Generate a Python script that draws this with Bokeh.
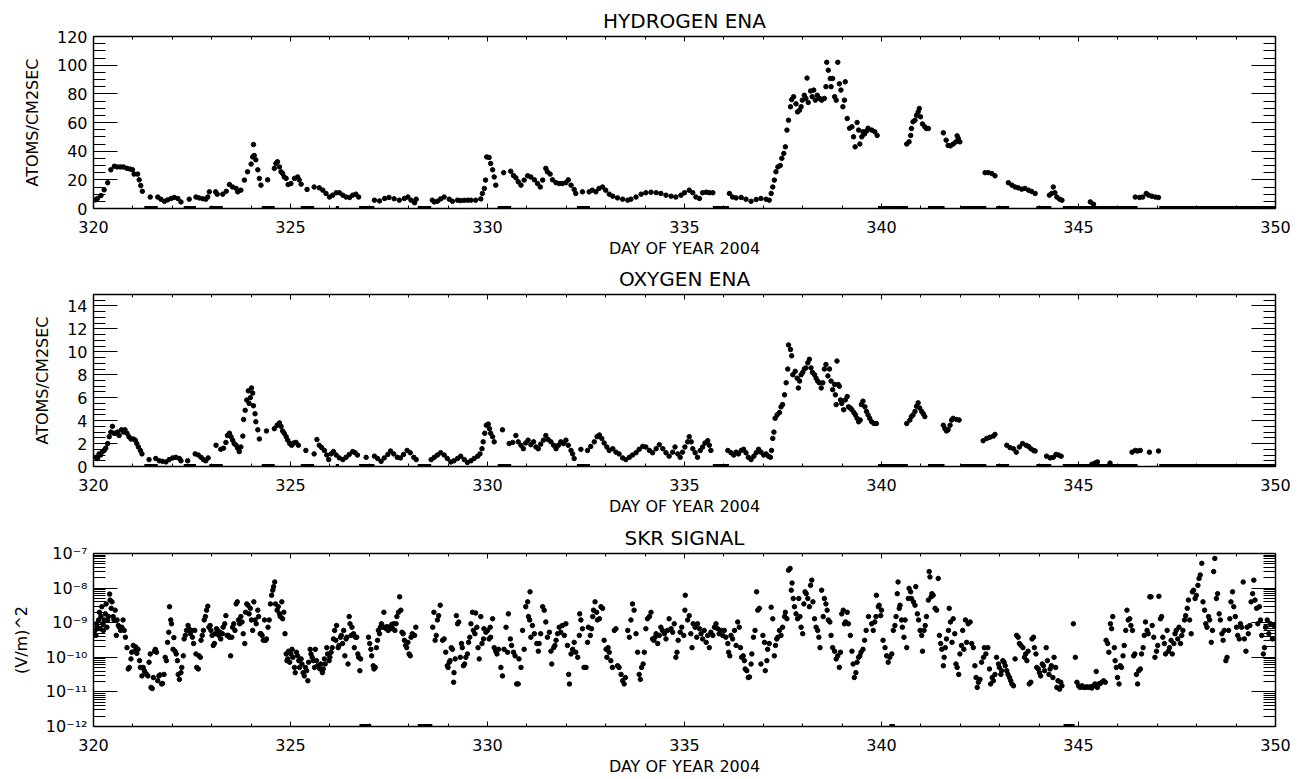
from bokeh.plotting import figure
from bokeh.models import (Range1d, LinearAxis, LogAxis, SingleIntervalTicker, LogTicker,
                          CustomJSTickFormatter)
from bokeh.layouts import column
from bokeh.embed import file_html
from bokeh.resources import INLINE

FONT = "DejaVu Sans"

# ---------------- data ----------------
x_ticks = [320, 325, 330, 335, 340, 345, 350]

h_day = [320.05, 320.10, 320.19, 320.27, 320.36, 320.44, 320.53, 320.60, 320.68, 320.76, 320.85, 320.93, 320.99,
         321.03, 321.12, 321.16, 321.20, 321.24, 321.44,
         321.63, 321.71, 321.80, 321.88, 321.97, 322.05, 322.14, 322.22, 322.43,
         322.60, 322.68, 322.77, 322.85, 322.90, 322.94, 323.10, 323.14,
         323.28, 323.37, 323.45, 323.53, 323.62, 323.66, 323.74, 323.83, 323.91, 324.00, 324.04, 324.06, 324.08,
         324.12, 324.17, 324.21, 324.25, 324.42,
         324.59, 324.63, 324.67, 324.72, 324.76, 324.80, 324.84, 324.89, 324.94, 325.01, 325.10, 325.18, 325.22,
         325.27, 325.42,
         325.60, 325.73, 325.82, 325.90, 325.99, 326.07, 326.16, 326.24, 326.33, 326.41, 326.50, 326.58, 326.66,
         326.73,
         327.13, 327.26, 327.39, 327.50, 327.63, 327.76, 327.89, 327.98, 328.06, 328.15, 328.19,
         328.60, 328.65, 328.73, 328.81, 328.90, 329.03, 329.11, 329.24, 329.32, 329.41, 329.50, 329.58, 329.70,
         329.83, 329.87, 329.92, 329.95, 329.98, 330.04, 330.08, 330.13, 330.17, 330.21, 330.41,
         330.59, 330.66, 330.72, 330.78, 330.85, 330.93, 331.02, 331.10, 331.19, 331.27, 331.34, 331.40, 331.48,
         331.52, 331.59, 331.65, 331.74, 331.82, 331.90, 331.99, 332.05, 332.12, 332.20, 332.24, 332.41,
         332.58, 332.66, 332.75, 332.83, 332.92, 333.00, 333.09, 333.18, 333.30, 333.43, 333.56, 333.64, 333.77,
         333.90, 334.02, 334.15, 334.28, 334.40, 334.53, 334.66, 334.78, 334.91, 335.00, 335.12, 335.21, 335.29,
         335.38, 335.46, 335.55, 335.63, 335.72,
         336.14, 336.22, 336.31, 336.44, 336.56, 336.69, 336.82, 336.94, 337.07, 337.15, 337.20, 337.24, 337.28,
         337.32, 337.37, 337.43, 337.47, 337.52, 337.56, 337.60, 337.64, 337.69, 337.72, 337.77, 337.83, 337.87,
         337.92, 337.96, 337.99, 338.04, 338.08, 338.11, 338.14, 338.20, 338.24, 338.28, 338.32, 338.37, 338.43,
         338.48, 338.55, 338.59, 338.61, 338.65, 338.70, 338.72, 338.76, 338.81, 338.85, 338.89, 338.93, 338.97,
         339.02, 339.06, 339.08, 339.13, 339.19, 339.25, 339.29, 339.33, 339.38, 339.42, 339.45, 339.50, 339.53,
         339.57, 339.62, 339.66, 339.75, 339.83, 339.89,
         340.64, 340.70, 340.74, 340.76, 340.80, 340.85, 340.89, 340.93, 340.96, 340.99, 341.04, 341.10, 341.14,
         341.19,
         341.57, 341.64, 341.69, 341.75, 341.82, 341.89, 341.92, 341.95, 341.99,
         342.63, 342.71, 342.80, 342.88,
         343.22, 343.31, 343.39, 343.47, 343.56, 343.64, 343.73, 343.81, 343.90,
         344.26, 344.32, 344.36, 344.40, 344.45, 344.52, 344.58,
         345.30, 345.38,
         346.44, 346.55, 346.63, 346.72, 346.78, 346.86, 346.95, 347.03]
h_val = [6, 7, 9, 13, 18, 27, 29.5, 29, 29, 29, 28, 27.5, 27,
         24, 24, 20, 16, 12, 8,
         8, 6.5, 5, 6, 7, 7.7, 7, 4.6, 6.5,
         8, 7.4, 6.8, 6.5, 8, 11.6, 11.6, 10,
         10, 12, 16.7, 15, 14, 11.6, 12.8, 19.8, 25.6, 31, 36, 44.6, 37,
         34, 27, 21, 16.3, 20,
         28, 31.4, 32.6, 29, 25.6, 24.4, 22, 21, 16.7, 17.4, 21, 22, 20,
         17, 13.3,
         15, 14.4, 12.8, 10.5, 8, 9.3, 11, 11, 9.3, 8, 7.7, 9.3, 10,
         8,
         5.8, 5.3, 7, 7.7, 6.8, 5.8, 7, 8, 5.8, 4, 6.5,
         5.8, 4.6, 5.1, 6.7, 8, 6.5, 5, 5.8, 5.5, 5.7, 5.8, 5.8, 5.8,
         6.7, 10.5, 14, 19.8, 36, 35.6, 31.4, 27, 22, 16.3, 25,
         26, 23, 21.4, 18.6, 16.3, 19.8, 22.8, 22, 20, 17.4, 15, 19.8, 28,
         25.6, 24, 20, 18, 17.4, 17.4, 18, 20, 16.3, 13.3, 10.5, 11.6,
         11.6, 12.8, 11.6, 14, 15, 12.8, 10, 8.6, 7.4, 6.5, 5.8, 6.5, 8,
         10, 11, 11.4, 11, 10.5, 9.3, 8.6, 8, 9.3, 11, 12.8, 11, 8,
         7, 11, 11.4, 11, 11,
         10.5, 8, 7.4, 7.7, 6.5, 5, 6.3, 7, 6.5, 5.8, 10.5, 15, 19.8,
         25.6, 29, 30, 35, 38.4, 43, 54.7, 61.6, 71, 76, 78, 73, 67.4,
         68.6, 71, 75.6, 79, 76.8, 91, 74, 82, 78, 82.6, 75.6, 79, 76.8,
         75.6, 76.8, 85, 102, 96.5, 90.7, 85, 90.7, 78, 75.6, 102, 87, 82.6,
         71, 75.6, 88.4, 62.8, 56, 57, 50, 43, 60, 54.7, 45, 50, 53.5,
         52, 54, 56, 54.7, 53.5, 51,
         45, 46.5, 51, 55.8, 60.5, 61.6, 65, 67.4, 69.8, 64, 59, 57, 55.8,
         55.8,
         52.8, 47.7, 44, 43.7, 45, 46.5, 50.7, 48.8, 46.5,
         25, 25, 24.4, 22.8,
         18, 16.3, 15, 14.4, 13.5, 14, 12.8, 11.9, 10.5,
         9.3, 10.5, 15, 11, 8, 6.5, 5.8,
         4.6, 3,
         8, 7.7, 8, 10.5, 9.3, 8.6, 8, 7.7]

o_day = [320.06, 320.10, 320.14, 320.18, 320.23, 320.27, 320.31, 320.36, 320.40, 320.44, 320.48, 320.52, 320.57,
         320.61, 320.65, 320.71, 320.76, 320.80, 320.85, 320.90, 320.95, 321.01, 321.06, 321.10, 321.14, 321.19,
         321.23, 321.41,
         321.58, 321.67, 321.75, 321.84, 321.92, 322.01, 322.09, 322.18, 322.22, 322.39,
         322.58, 322.66, 322.73, 322.79, 322.85, 322.91, 323.11,
         323.23, 323.30, 323.36, 323.40, 323.45, 323.49, 323.53, 323.57, 323.62, 323.66, 323.70, 323.74, 323.79,
         323.81, 323.85, 323.89, 323.93, 323.95, 323.98, 324.01, 324.04, 324.06, 324.10, 324.12, 324.17, 324.21,
         324.39,
         324.59, 324.66, 324.72, 324.76, 324.80, 324.84, 324.89, 324.93, 324.98, 325.03, 325.08, 325.14, 325.20,
         325.39,
         325.60, 325.67, 325.73, 325.79, 325.86, 325.92, 325.97, 326.03, 326.09, 326.16, 326.24, 326.33, 326.41,
         326.49, 326.58, 326.64, 326.70, 326.92,
         327.13, 327.21, 327.30, 327.38, 327.47, 327.54, 327.62, 327.71, 327.79, 327.87, 327.96, 328.04, 328.13,
         328.19,
         328.57, 328.65, 328.73, 328.81, 328.90, 328.98, 329.07, 329.15, 329.24, 329.32, 329.41, 329.49, 329.58,
         329.66, 329.75, 329.81, 329.86, 329.89, 329.93, 329.97, 330.02, 330.05, 330.08, 330.13, 330.17, 330.38,
         330.55, 330.64, 330.72, 330.78, 330.85, 330.91, 330.97, 331.03, 331.10, 331.17, 331.23, 331.29, 331.35,
         331.42, 331.48, 331.54, 331.61, 331.68, 331.74, 331.80, 331.86, 331.93, 331.99, 332.05, 332.12, 332.16,
         332.20, 332.37,
         332.54, 332.62, 332.71, 332.78, 332.84, 332.90, 332.96, 333.03, 333.09, 333.18, 333.26, 333.34, 333.43,
         333.51, 333.60, 333.68, 333.77, 333.85, 333.94, 334.02, 334.11, 334.19, 334.28, 334.36, 334.45, 334.53,
         334.61, 334.70, 334.76, 334.83, 334.89, 334.95, 335.01, 335.08, 335.12, 335.17, 335.21, 335.27, 335.33,
         335.40, 335.46, 335.52, 335.59, 335.63, 335.67,
         336.10, 336.18, 336.25, 336.31, 336.37, 336.44, 336.50, 336.56, 336.62, 336.69, 336.76, 336.82, 336.88,
         336.94, 337.01, 337.07, 337.13, 337.18, 337.21, 337.24, 337.27, 337.30, 337.35, 337.41, 337.45, 337.49,
         337.54, 337.58, 337.62, 337.64, 337.69, 337.72, 337.75, 337.81, 337.86, 337.89, 337.92, 337.96, 338.00,
         338.04, 338.08, 338.13, 338.17, 338.21, 338.25, 338.30, 338.34, 338.38, 338.42, 338.47, 338.51, 338.55,
         338.59, 338.64, 338.68, 338.72, 338.76, 338.81, 338.83, 338.85, 338.87, 338.90, 338.93, 338.96, 338.99,
         339.04, 339.08, 339.13, 339.16, 339.21, 339.25, 339.30, 339.34, 339.38, 339.42, 339.46, 339.49, 339.53,
         339.58, 339.62, 339.66, 339.70, 339.75, 339.81, 339.87,
         340.64, 340.72, 340.76, 340.80, 340.85, 340.89, 340.93, 340.97, 341.02, 341.06, 341.10,
         341.57, 341.61, 341.65, 341.69, 341.74, 341.78, 341.82, 341.91, 341.97,
         342.58, 342.67, 342.75, 342.84, 342.88,
         343.18, 343.26, 343.35, 343.42, 343.50, 343.58, 343.67, 343.73, 343.79, 343.86, 343.90,
         344.19, 344.28, 344.36, 344.43, 344.49, 344.56,
         345.34, 345.42, 345.48, 345.80,
         346.36, 346.44, 346.50, 346.57, 346.80, 347.03]
o_val = [0.8, 0.7, 1.1, 1.0, 1.3, 1.4, 1.6, 2.0, 2.6, 3.0, 3.5, 2.9, 2.9,
         3.0, 2.7, 3.2, 3.0, 3.2, 2.9, 2.6, 2.4, 2.4, 2.3, 2.0, 1.7, 1.4,
         1.1, 0.6,
         0.7, 0.5, 0.45, 0.4, 0.6, 0.75, 0.8, 0.7, 0.5, 0.5,
         1.1, 1.0, 0.8, 0.6, 0.5, 0.75, 1.85,
         1.5, 1.6, 2.1, 2.7, 2.9, 2.6, 2.3, 2.0, 1.85, 1.6, 1.3, 1.7, 2.65,
         4.1, 4.9, 5.8, 6.6, 5.5, 6.0, 6.85, 6.4, 5.3, 4.6, 3.9, 3.2, 2.4,
         3.1,
         3.3, 3.6, 3.8, 3.5, 3.1, 2.9, 2.6, 2.3, 2.0, 1.85, 2.05, 2.1, 1.85,
         1.4,
         1.1, 2.35, 1.85, 1.65, 1.4, 1.0, 0.6, 1.1, 1.3, 1.0, 0.75, 0.6, 0.8,
         1.05, 1.3, 1.2, 1.0, 0.8,
         0.9, 0.7, 0.45, 0.75, 1.05, 1.35, 1.1, 0.8, 0.75, 1.05, 1.4, 1.2, 0.8,
         0.6,
         0.6, 0.8, 1.0, 1.2, 1.0, 0.7, 0.4, 0.5, 0.7, 0.9, 0.6, 0.35, 0.5,
         0.7, 0.9, 1.1, 1.55, 2.15, 2.9, 3.6, 3.7, 3.3, 2.9, 2.6, 2.15, 3.2,
         2.0, 2.1, 2.7, 2.15, 1.85, 1.55, 2.05, 2.3, 1.9, 2.15, 1.7, 1.55, 1.95,
         2.3, 2.7, 2.35, 2.15, 1.85, 1.55, 1.85, 2.15, 2.0, 2.3, 1.85, 1.4, 1.1,
         0.7, 1.5,
         1.4, 1.75, 2.15, 2.6, 2.75, 2.45, 2.05, 1.7, 1.4, 1.55, 1.25, 1.1, 0.75,
         0.6, 0.8, 1.0, 1.2, 1.5, 1.75, 1.7, 1.4, 1.2, 1.55, 1.9, 1.55, 1.2,
         0.9, 1.25, 1.7, 1.1, 0.8, 1.25, 1.7, 2.15, 2.6, 2.15, 1.55, 1.2, 0.8,
         1.4, 1.7, 2.05, 2.25, 1.85, 1.4,
         1.4, 1.2, 1.0, 1.25, 1.1, 1.4, 1.5, 1.2, 0.8, 0.6, 0.9, 1.2, 1.5,
         1.25, 1.0, 1.1, 0.9, 0.8, 1.4, 2.45, 3.0, 4.2, 4.5, 4.7, 5.2, 5.4,
         6.25, 7.3, 8.5, 10.6, 10.2, 9.65, 8.0, 8.3, 7.7, 6.85, 7.45, 8.0, 8.2,
         8.5, 8.6, 9.05, 9.35, 8.6, 8.2, 8.0, 7.7, 7.45, 7.3, 6.85, 7.3, 8.5,
         8.9, 7.9, 8.5, 7.45, 6.7, 7.15, 6.25, 5.4, 9.2, 7.15, 7.0, 5.8, 5.5,
         4.95, 5.8, 6.1, 5.2, 5.1, 4.95, 4.7, 4.5, 4.2, 3.9, 4.05, 5.4, 5.7,
         5.2, 4.8, 4.5, 4.2, 3.9, 3.75, 3.75,
         3.75, 4.05, 4.35, 4.5, 4.8, 5.25, 5.55, 5.1, 4.8, 4.6, 4.35,
         3.6, 3.3, 3.1, 3.2, 3.6, 4.05, 4.2, 4.1, 4.05,
         2.25, 2.45, 2.55, 2.65, 2.8,
         1.85, 1.65, 1.55, 1.25, 1.7, 2.0, 1.85, 1.75, 1.55, 1.4, 1.35,
         0.9, 0.75, 0.8, 1.05, 1.0, 0.9,
         0.2, 0.3, 0.4, 0.3,
         1.25, 1.4, 1.35, 1.4, 1.25, 1.35]

# intervals where the ENA count is zero (drawn on the x axis)
ena_zero_start = [321.29, 322.29, 322.94, 324.27, 325.26, 326.15, 326.74, 328.23, 330.26, 332.27, 335.72,
                  339.91, 341.18, 342.02, 342.91, 343.93, 344.60, 347.05]
ena_zero_end = [321.63, 322.60, 323.28, 324.60, 325.60, 326.23, 327.13, 328.57, 330.60, 332.60, 336.13,
                340.67, 341.60, 342.66, 343.24, 344.31, 346.50, 350.00]
skr_zero_start = [326.75, 328.23, 340.20, 344.62]
skr_zero_end = [327.05, 328.60, 340.34, 344.90]

skr_day = [320.04, 320.06, 320.08, 320.10, 320.13, 320.15, 320.17, 320.19, 320.21, 320.24, 320.25, 320.27, 320.30,
           320.32, 320.34, 320.36, 320.38, 320.41, 320.42, 320.45, 320.47, 320.50, 320.52, 320.55, 320.58, 320.60,
           320.63, 320.66, 320.69, 320.72, 320.75, 320.78, 320.81, 320.85, 320.88, 320.91, 320.95, 320.97, 321.01,
           321.04, 321.07, 321.10, 321.13, 321.17, 321.19, 321.23, 321.26, 321.29, 321.31, 321.35, 321.38, 321.41,
           321.44, 321.46, 321.49, 321.52, 321.55, 321.57, 321.60, 321.63, 321.66, 321.69, 321.73, 321.75, 321.79,
           321.82, 321.85, 321.88, 321.91, 321.93, 321.96, 321.98, 322.02, 322.04, 322.07, 322.10, 322.13, 322.15,
           322.18, 322.22, 322.24, 322.28, 322.30, 322.33, 322.36, 322.40, 322.42, 322.46, 322.48, 322.51, 322.54,
           322.57, 322.60, 322.62, 322.66, 322.68, 322.71, 322.73, 322.76, 322.79, 322.81, 322.84, 322.87, 322.90,
           322.93, 322.96, 322.98, 323.01, 323.04, 323.07, 323.09, 323.12, 323.15, 323.18, 323.21, 323.23, 323.27,
           323.29, 323.33, 323.36, 323.39, 323.42, 323.45, 323.48, 323.51, 323.53, 323.56, 323.59, 323.62, 323.65,
           323.68, 323.71, 323.74, 323.77, 323.80, 323.84, 323.86, 323.89, 323.92, 323.95, 323.98, 324.01, 324.04,
           324.07, 324.10, 324.13, 324.17, 324.19, 324.23, 324.25, 324.28, 324.31, 324.34, 324.37, 324.39, 324.43,
           324.46, 324.49, 324.52, 324.55, 324.57, 324.60, 324.62, 324.66, 324.69, 324.72, 324.74, 324.78, 324.80,
           324.83, 324.86, 324.89, 324.91, 324.93, 324.95, 324.98, 325.01, 325.04, 325.06, 325.10, 325.12, 325.15,
           325.18, 325.21, 325.23, 325.27, 325.29, 325.32, 325.35, 325.38, 325.41, 325.44, 325.46, 325.50, 325.52,
           325.55, 325.58, 325.61, 325.63, 325.66, 325.69, 325.72, 325.75, 325.77, 325.81, 325.83, 325.86, 325.88,
           325.92, 325.94, 325.98, 326.00, 326.03, 326.06, 326.09, 326.12, 326.15, 326.17, 326.21, 326.23, 326.27,
           326.29, 326.32, 326.35, 326.38, 326.41, 326.43, 326.46, 326.49, 326.51, 326.54, 326.56, 326.60, 326.62,
           326.65, 326.68, 326.71, 326.73, 326.76, 326.78, 326.98, 327.01, 327.04, 327.06, 327.10, 327.12, 327.15,
           327.18, 327.21, 327.23, 327.26, 327.28, 327.31, 327.34, 327.37, 327.39, 327.43, 327.45, 327.48, 327.51,
           327.54, 327.57, 327.59, 327.62, 327.65, 327.68, 327.70, 327.74, 327.77, 327.80, 327.83, 327.86, 327.89,
           327.92, 327.95, 327.98, 328.01, 328.04, 328.06, 328.09, 328.12, 328.15, 328.18, 328.61, 328.64, 328.67,
           328.70, 328.73, 328.76, 328.80,
           328.86, 328.90, 328.94, 328.98, 329.00, 329.03, 329.05, 329.08, 329.11, 329.14, 329.15, 329.18, 329.21,
           329.24, 329.27, 329.31, 329.34, 329.36, 329.39, 329.42, 329.45, 329.49, 329.52, 329.55, 329.58, 329.62,
           329.64, 329.68, 329.70, 329.73, 329.76, 329.79, 329.83, 329.86, 329.90, 329.91, 329.96, 330.00, 330.04,
           330.07, 330.08, 330.13, 330.17, 330.21, 330.24, 330.28, 330.34, 330.38, 330.42, 330.47, 330.51, 330.53,
           330.58, 330.61, 330.66, 330.70, 330.74, 330.78, 330.80, 330.85, 330.89, 330.93, 330.97, 331.02, 331.04,
           331.07, 331.08, 331.10, 331.14, 331.19, 331.25, 331.29, 331.31, 331.35, 331.40, 331.44, 331.48, 331.52,
           331.57, 331.61, 331.63, 331.68, 331.71, 331.74, 331.78, 331.82, 331.86, 331.90, 331.95, 331.99, 332.03,
           332.06, 332.08, 332.12, 332.16, 332.20, 332.24, 332.29, 332.33, 332.34, 332.37, 332.41, 332.45, 332.50,
           332.54, 332.56, 332.61, 332.64, 332.67, 332.69, 332.73, 332.77, 332.79, 332.84, 332.88, 332.92, 332.96,
           333.01, 333.03, 333.06, 333.09, 333.13, 333.17, 333.22, 333.26, 333.30, 333.34, 333.39, 333.43, 333.47,
           333.50, 333.56, 333.60, 333.64, 333.68, 333.72, 333.77, 333.81, 333.85, 333.88, 333.91, 333.95, 333.98,
           334.02, 334.06, 334.11, 334.15, 334.19, 334.22, 334.25, 334.28, 334.32, 334.36, 334.40, 334.44, 334.49,
           334.53, 334.57, 334.61, 334.66, 334.70, 334.74, 334.78, 334.81, 334.84, 334.89, 334.93, 334.98, 335.01,
           335.02, 335.08, 335.12, 335.16, 335.19, 335.22, 335.27, 335.31, 335.33, 335.38, 335.42, 335.46, 335.50,
           335.55, 335.59, 335.63, 335.67, 335.72, 335.76, 335.80, 335.84, 335.88, 335.93, 335.97, 336.01, 336.05,
           336.10, 336.12, 336.15, 336.18, 336.22, 336.27, 336.31, 336.35, 336.39, 336.42, 336.45, 336.49, 336.52,
           336.54, 336.58, 336.62, 336.65, 336.69, 336.71, 336.75, 336.79, 336.83, 336.86, 336.90, 336.94, 336.99,
           337.03, 337.05, 337.09, 337.11, 337.15, 337.20, 337.24, 337.28, 337.31, 337.34, 337.37, 337.41, 337.45,
           337.49, 337.54, 337.56, 337.60, 337.64, 337.68, 337.71, 337.73, 337.76, 337.79, 337.83, 337.87, 337.90,
           337.93, 337.96, 338.00, 338.03, 338.06, 338.09, 338.13, 338.17, 338.20, 338.23, 338.26, 338.30, 338.34,
           338.38, 338.41, 338.44, 338.48, 338.52, 338.55, 338.59, 338.62, 338.65, 338.69, 338.72, 338.76, 338.81,
           338.85, 338.89, 338.93, 338.96, 338.99, 339.03, 339.06, 339.09, 339.13, 339.16, 339.21, 339.25, 339.28,
           339.31, 339.35, 339.38, 339.42, 339.45, 339.48, 339.53, 339.57, 339.61, 339.67,
           339.75, 339.79, 339.83, 339.86, 339.87, 339.92, 339.94, 339.98, 340.00, 340.04, 340.09, 340.13, 340.17,
           340.21, 340.26, 340.30, 340.34, 340.37, 340.40, 340.42, 340.45, 340.47, 340.51, 340.53, 340.57, 340.60,
           340.64, 340.68, 340.70, 340.74, 340.76, 340.81, 340.85, 340.87, 340.91, 340.94, 340.98, 341.02, 341.04,
           341.08, 341.11, 341.14, 341.19, 341.21, 341.23, 341.26, 341.28, 341.31, 341.36, 341.40, 341.44, 341.47,
           341.50, 341.53, 341.57, 341.59, 341.62, 341.65, 341.70, 341.72, 341.75, 341.79, 341.82, 341.86, 341.89,
           341.92, 341.96, 341.99, 342.03, 342.06, 342.09, 342.13, 342.16, 342.20, 342.25, 342.29, 342.33, 342.37,
           342.40, 342.43, 342.46, 342.50, 342.54, 342.59, 342.61, 342.65, 342.70, 342.74, 342.77, 342.81, 342.84,
           342.88, 342.92, 342.97, 342.99, 343.03, 343.05, 343.08, 343.11, 343.14, 343.18, 343.21, 343.25, 343.28,
           343.31, 343.35, 343.39, 343.43, 343.47, 343.50, 343.54, 343.59, 343.63, 343.66, 343.69, 343.72, 343.75,
           343.79, 343.82, 343.86, 343.88, 343.92, 343.94, 343.98, 344.01, 344.04, 344.08, 344.11, 344.14, 344.18,
           344.21, 344.25, 344.28, 344.31, 344.35, 344.38, 344.42, 344.45, 344.48, 344.52, 344.55, 344.58,
           344.87, 344.92, 344.96, 345.00, 345.04, 345.09, 345.13, 345.17, 345.21, 345.26, 345.30, 345.34, 345.38,
           345.42, 345.45, 345.48, 345.52, 345.55, 345.59, 345.64, 345.68, 345.70, 345.74, 345.77, 345.81, 345.84,
           345.87, 345.91, 345.93, 345.96, 345.99, 346.03, 346.06, 346.09, 346.13, 346.16, 346.20, 346.23, 346.26,
           346.30, 346.33, 346.37, 346.40, 346.43, 346.47, 346.50, 346.53, 346.57, 346.60, 346.64, 346.67, 346.70,
           346.74, 346.77, 346.81, 346.84, 346.87, 346.91, 346.94, 346.98, 347.01, 347.04, 347.08, 347.11, 347.14,
           347.18, 347.21, 347.25, 347.28, 347.31, 347.35, 347.38, 347.42, 347.45, 347.48, 347.52, 347.55, 347.59,
           347.62, 347.65, 347.69, 347.72, 347.76, 347.79, 347.82, 347.86, 347.89, 347.92, 347.96, 347.99, 348.03,
           348.06, 348.09, 348.13, 348.16, 348.20, 348.23, 348.26, 348.30, 348.33, 348.37, 348.40, 348.43, 348.46,
           348.50, 348.53, 348.57, 348.60, 348.64, 348.67, 348.70, 348.74, 348.77, 348.81, 348.84, 348.87, 348.91,
           348.94, 348.98, 349.01, 349.04, 349.08, 349.11, 349.14, 349.18, 349.21, 349.25, 349.28, 349.31, 349.35,
           349.38, 349.42, 349.45, 349.48, 349.52, 349.55, 349.59, 349.62, 349.65, 349.69, 349.72, 349.75, 349.79,
           349.83, 349.87, 349.92, 349.96]
skr_val = [6e-10, 4.3e-10, 9.3e-10, 7.4e-10, 1.2e-9, 2e-9, 6.7e-10, 1.5e-9, 2.9e-9, 9.3e-10, 6e-10, 1.2e-9, 1.8e-9,
           3.5e-9, 7.4e-10, 1.2e-9, 1.5e-9, 6.7e-9, 4.5e-9, 2.6e-9, 4e-9, 1.5e-9, 1.2e-9, 2.3e-9, 4.3e-10, 1.2e-9,
           8.3e-10, 7.4e-10, 6e-10, 7.4e-10, 1.2e-9, 6e-10, 3.8e-10, 1.9e-10, 4.6e-11, 5.1e-11, 9e-11, 1.4e-10, 2.2e-10,
           1.5e-10, 2e-10, 1.3e-10, 1.7e-10, 8e-11, 5.1e-11, 2.9e-11, 5.1e-11, 4.1e-11, 3.6e-11, 3.2e-11, 2.9e-11, 7.2e-11,
           1.25e-10, 1.35e-11, 1.25e-11, 2.6e-11, 1.5e-10, 1.7e-10, 1.4e-10, 2.1e-11, 2.9e-11, 3.1e-11, 1.7e-11, 1.75e-11, 3.2e-11,
           1e-10, 8e-11, 2.7e-10, 5.3e-10, 2.9e-9, 1.2e-9, 9.3e-10, 1.7e-10, 3.7e-10, 1.5e-10, 1.25e-10, 8e-11, 3.2e-11,
           2.3e-11, 3.6e-11, 5.1e-11, 1.1e-10, 3.4e-10, 4.3e-10, 6e-10, 8.3e-10, 6.7e-10, 4.8e-10, 6e-10, 3.8e-10, 2.5e-10,
           6e-10, 1.25e-10, 5.1e-11, 4.6e-11, 1.1e-10, 1e-10, 3.1e-10, 4.3e-10, 6e-10, 1.2e-9, 1.5e-9, 2.3e-9, 3e-9,
           7.4e-10, 8.3e-10, 6e-10, 4.3e-10, 2.2e-10, 2.5e-10, 4.8e-10, 6.7e-10, 6e-10, 4.3e-10, 5.3e-10, 3.4e-10, 4.8e-10,
           7.4e-10, 9.3e-10, 1.6e-9, 4.3e-10, 4.3e-10, 3.8e-10, 1.1e-10, 3.8e-10, 7.4e-10, 9.3e-10, 6e-10, 3.5e-9, 4e-9,
           1.2e-9, 9.3e-10, 1.5e-9, 1.05e-9, 4.8e-10, 2.5e-10, 2e-9, 3.5e-9, 3.2e-9, 1.8e-9, 2.6e-9, 1.2e-9, 6e-10,
           4e-9, 1.2e-9, 9.3e-10, 2.3e-9, 1.5e-9, 4.8e-10, 4.8e-10, 4.3e-10, 3.1e-10, 1.2e-9, 3.1e-10, 3.4e-10, 7.4e-10,
           1.2e-9, 3.5e-9, 6.2e-9, 8.7e-9, 1.1e-8, 1.5e-8, 3.5e-9, 2.3e-9, 2.9e-9, 1.8e-9, 1.5e-9, 4e-9, 1.3e-9,
           2e-9, 4.8e-10, 1.25e-10, 8e-11, 9e-11, 1.5e-10, 7.2e-11, 1.25e-10, 1.7e-10, 1e-10, 5.1e-11, 3.6e-11, 1.4e-10,
           1.1e-10, 8e-11, 5.1e-11, 9e-11, 6.4e-11, 3.6e-11, 2.9e-11, 5.1e-11, 4.1e-11, 2.1e-11, 7.2e-11, 1.7e-10, 1.25e-10,
           1e-10, 8e-11, 5.1e-11, 1.7e-10, 8e-11, 5.7e-11, 5.1e-11, 4.6e-11, 6.4e-11, 3.6e-11, 4.6e-11, 9e-11, 6.4e-11,
           1.9e-10, 1.25e-10, 8e-11, 1e-10, 1.4e-10, 1.9e-10, 3.4e-10, 6e-10, 3.1e-10, 8.3e-10, 1.9e-10, 2.2e-10, 3.8e-10,
           4.3e-10, 2.5e-10, 6e-10, 1.1e-10, 3.4e-10, 3.8e-10, 6.4e-11, 1.5e-9, 9.3e-10, 4.3e-10, 7.4e-10, 4.8e-10, 1.9e-10,
           3.8e-10, 3.8e-10, 1.25e-10, 1e-10, 4.1e-11, 9e-11, 3.8e-10, 2.5e-10, 1.7e-10, 1.1e-10, 5.7e-11, 4.6e-11, 5.1e-11,
           1.9e-10, 3.1e-10, 6e-10, 4.8e-10, 7.4e-10, 9.3e-10, 7.4e-10, 2e-9, 7.4e-10, 6.7e-10, 7.7e-10, 6e-10, 7.1e-10,
           7.4e-10, 8.9e-10, 6.7e-10, 9.3e-10, 6e-10, 9.3e-10, 1.5e-9, 2e-9, 5.6e-9, 2.3e-9, 5.3e-10, 4.8e-10, 3.1e-10,
           2.2e-10, 1.9e-10, 2.7e-10, 1.25e-10, 1.1e-10, 3.8e-10, 4.8e-10, 4.3e-10, 4.3e-10, 7.4e-10, 7.4e-10, 2e-9, 3.1e-10,
           4.3e-10, 1.2e-9, 1.6e-9, 3.2e-9,
           3.1e-10, 3.4e-10, 1.4e-10, 5.7e-11, 5.1e-11, 7.2e-11, 8e-11, 1.9e-10, 1.7e-10, 1.9e-11, 3.6e-11, 9e-11, 1.6e-9,
           9.3e-10, 1.05e-9, 1e-10, 2.5e-10, 1.9e-10, 5.7e-11, 6.4e-11, 1e-10, 1.25e-10, 2.7e-10, 3.8e-10, 9.3e-10, 2e-9,
           6e-10, 4.8e-10, 1.9e-9, 7.4e-10, 1.9e-10, 9e-11, 1.5e-9, 2.5e-10, 3.4e-10, 6.7e-10, 5.3e-10, 6e-10, 3.4e-10,
           7.4e-10, 3.8e-10, 1.3e-9, 1.9e-10, 1.5e-10, 1.25e-10, 1.7e-10, 5.1e-11, 2.9e-11, 1.7e-10, 7.4e-10, 1.4e-10, 1.8e-9,
           3.4e-10, 2.2e-10, 1.4e-10, 1.1e-10, 1.7e-11, 1.7e-11, 9e-11, 5.1e-11, 6e-10, 1.7e-10, 2.9e-9, 4e-9, 1.5e-9,
           1.2e-9, 7.8e-9, 3.8e-10, 8.3e-10, 4.8e-10, 2.5e-10, 1.5e-10, 2.5e-10, 4.8e-10, 2.9e-9, 2.3e-9, 1.05e-9, 3.8e-10,
           5.3e-10, 1.5e-10, 6.4e-11, 1.9e-10, 2.2e-10, 3.1e-10, 4.8e-10, 7.4e-10, 5.3e-10, 8.3e-10, 4.3e-10, 9.3e-10, 2.2e-10,
           3.2e-11, 1.7e-11, 1.25e-10, 1.7e-10, 2.7e-10, 1.4e-10, 1e-10, 4.3e-10, 1.8e-9, 1.2e-9, 6.7e-10, 5.1e-11, 5.1e-11,
           2.7e-10, 7.4e-10, 4.3e-10, 6.7e-10, 1.5e-9, 2.3e-9, 4e-9, 2e-9, 1.2e-9, 1.3e-9, 2.9e-9, 2.6e-9, 3.1e-10,
           1.7e-10, 1e-10, 1.9e-10, 1.4e-10, 8e-11, 5.1e-11, 6e-10, 6.7e-10, 5.7e-11, 5.1e-11, 3.2e-11, 2.1e-11, 1.7e-11,
           2.6e-11, 6e-10, 3.8e-10, 1.2e-9, 3.5e-9, 2.3e-9, 4.8e-10, 1.4e-10, 3.2e-11, 2.3e-11, 5.1e-11, 6.4e-11, 1.4e-10,
           6.7e-10, 1.3e-9, 1.5e-9, 2e-9, 3.4e-10, 3.1e-10, 3.8e-10, 4.8e-10, 2.5e-10, 4.3e-10, 7.4e-10, 6e-10, 4.8e-10,
           3.4e-10, 6e-10, 1.3e-9, 6.7e-10, 5.3e-10, 9.3e-10, 1e-10, 1.4e-10, 3.1e-10, 5.3e-10, 7.4e-10, 4.3e-10, 2.3e-9,
           6.2e-9, 1.2e-9, 1.6e-9, 4.8e-10, 1.9e-10, 9.3e-10, 7.4e-10, 3.8e-10, 9.3e-10, 6.7e-10, 4.8e-10, 3.4e-10, 6e-10,
           2.7e-10, 4.3e-10, 1.9e-10, 5.3e-10, 4.3e-10, 7.4e-10, 9.3e-10, 6.7e-10, 4.8e-10, 6e-10, 4.3e-10, 6e-10, 3.8e-10,
           2.5e-10, 1.4e-10, 1.1e-10, 4.3e-10, 3.4e-10, 6e-10, 2.2e-10, 1.05e-9, 7.4e-10, 1.9e-10, 1e-10, 1.1e-10, 8e-11,
           4.6e-11, 4.1e-11, 2.6e-11, 2.7e-11, 6.4e-11, 1.25e-10, 3.8e-10, 6e-10, 7.8e-9, 2.3e-9, 2.6e-9, 6.4e-11, 4.3e-10,
           2.7e-10, 4.1e-11, 8e-11, 1.7e-10, 2.5e-10, 2.8e-9, 1.3e-9, 1.1e-10, 2.2e-10, 3.4e-10, 3.8e-10, 6e-10, 4.3e-10,
           7.4e-10, 1.5e-9, 2e-9, 1.3e-9, 3.3e-8, 3.7e-8, 8.7e-9, 1.4e-8, 5e-9, 2.9e-9, 1.8e-9, 1.3e-9, 5e-9,
           1.5e-9, 7.4e-10, 4.8e-10, 3.5e-9, 7.8e-9, 6.9e-9, 5e-9, 2.9e-9, 1.2e-8, 1.7e-8, 4e-9, 1.3e-9, 7.4e-10,
           6e-10, 3.8e-10, 1.9e-10, 8.7e-9, 1.5e-9, 5e-9, 3.5e-9, 2.3e-9, 1.2e-9, 1.05e-9, 4.3e-10, 1.9e-10, 1.5e-10,
           9e-11, 1.1e-10, 5.1e-11, 1.4e-10, 1.8e-9, 2.3e-9, 9.3e-10, 1.05e-9, 2e-9, 9.3e-10, 4.3e-10, 1.5e-10, 6.4e-11,
           2.6e-11, 3.6e-11, 7.2e-11, 1e-10, 1.1e-10, 1.4e-10, 1.7e-10, 3.1e-10, 6e-10, 1.5e-9,
           9.3e-10, 6e-10, 1.05e-9, 1.5e-9, 6.2e-9, 2.9e-9, 3.2e-9, 1.6e-9, 2.3e-9, 3.1e-10, 1.9e-10, 1.1e-10, 7.2e-11,
           1e-10, 1.25e-10, 6e-10, 8.3e-10, 1.5e-9, 6.9e-9, 1.5e-8, 2.6e-9, 3.2e-9, 1.2e-9, 7.4e-10, 3.8e-10, 1.2e-9,
           1.9e-10, 5e-9, 9.8e-9, 7.8e-9, 5e-9, 4e-9, 3.2e-9, 1.1e-8, 1.8e-9, 1.2e-9, 6e-10, 4.3e-10, 1.5e-10,
           6e-10, 8.3e-10, 1.5e-9, 4.5e-9, 3e-8, 2.1e-8, 5.6e-9, 6.9e-9, 6.2e-9, 2.6e-9, 2.3e-9, 1.9e-8, 4.3e-10,
           2.5e-10, 1.7e-10, 5.7e-11, 1e-10, 1.9e-10, 3.4e-10, 6e-10, 2.6e-9, 1.05e-9, 2.7e-10, 1.3e-9, 4.8e-10, 6.4e-11,
           5.1e-11, 3.2e-11, 1.25e-10, 2.2e-10, 6e-10, 1.7e-10, 1.2e-9, 2.7e-10, 9.3e-10, 1.05e-9, 2.5e-10, 1.9e-10, 5.7e-11,
           2.6e-11, 1.35e-11, 1.9e-11, 2.3e-11, 7.2e-11, 1e-10, 1.9e-10, 1.25e-10, 1.9e-10, 4.6e-11, 1.7e-11, 2.6e-11, 2.1e-11,
           3.2e-11, 1e-10, 6.4e-11, 5.1e-11, 3.2e-11, 4.1e-11, 8e-11, 7.2e-11, 5.7e-11, 4.1e-11, 3.2e-11, 2.6e-11, 2.1e-11,
           1.7e-11, 1.5e-11, 9e-11, 4.3e-10, 3.8e-10, 2.5e-10, 2.2e-10, 1.9e-10, 1e-10, 1.25e-10, 8e-11, 1.5e-10, 1.7e-11,
           1.9e-11, 3.4e-10, 3.8e-10, 1.9e-10, 1.25e-10, 5.1e-11, 4.6e-11, 3.6e-11, 2.9e-11, 6.4e-11, 5.7e-11, 4.1e-11, 1.9e-10,
           8e-11, 3.2e-11, 4.6e-11, 5.7e-11, 2.6e-11, 1e-10, 5.1e-11, 1.35e-11, 2.1e-11, 1.2e-11, 1.9e-11, 1.5e-11,
           9.3e-10, 1e-10, 1.9e-11, 1.5e-11, 1.35e-11, 1.5e-11, 1.35e-11, 1.35e-11, 1.4e-11, 1.35e-11, 1.4e-11, 1.3e-11, 1.5e-11,
           1.7e-11, 3.9e-11, 1.35e-11, 1.7e-11, 1.75e-11, 1.9e-11, 2.1e-11, 1.9e-11, 3.1e-10, 2.5e-10, 1.4e-10, 9.3e-10, 6.7e-10,
           1.5e-9, 1.9e-10, 8e-11, 5.1e-11, 2.6e-11, 1.7e-11, 5.7e-11, 5.1e-11, 1.1e-10, 2.2e-10, 6e-10, 2.3e-9, 1.2e-9,
           1.3e-9, 8.3e-10, 6e-10, 1.1e-10, 1.25e-10, 3.2e-11, 1.7e-11, 4.1e-11, 4.6e-11, 1.25e-10, 1.9e-10, 4.3e-10, 1.05e-9,
           6e-10, 4.8e-10, 5.6e-9, 5.6e-9, 8.3e-10, 3.8e-10, 1e-10, 1.5e-10, 2.2e-10, 5.8e-9, 1.3e-9, 1.5e-9, 3.8e-10,
           2.5e-10, 1.25e-10, 6e-10, 1.5e-10, 1.9e-10, 3.1e-10, 1.25e-10, 2.5e-10, 4.8e-10, 6e-10, 3.4e-10, 7.4e-10, 2.5e-10,
           4.3e-10, 6e-10, 1.2e-9, 1.6e-9, 2.6e-9, 4.5e-9, 1.2e-9, 4.8e-10, 7.8e-9, 8.7e-9, 5e-9, 6.2e-9, 1.2e-8,
           1.9e-8, 2.4e-8, 5.2e-8, 4e-9, 2.3e-9, 9.3e-10, 7.4e-10, 1.5e-9, 1.2e-9, 2.7e-10, 6e-10, 3e-8, 7.2e-8,
           5e-9, 6.9e-9, 1.8e-9, 1.2e-9, 4.8e-10, 3.1e-10, 6e-10, 8e-11, 1e-10, 6e-10, 1.3e-9, 4e-9, 7.8e-9,
           2.9e-9, 1.5e-9, 7.4e-10, 4.3e-10, 3.4e-10, 9.3e-10, 7.4e-10, 1.5e-8, 3.4e-10, 1.5e-10, 7.4e-10, 4.8e-10, 8.3e-10,
           4e-9, 6.9e-9, 1.7e-8, 4.5e-9, 2.6e-9, 9.3e-10, 2.9e-9, 1.2e-9, 4.3e-10, 1.25e-10, 1.9e-10, 7.4e-10, 1.2e-9,
           4.8e-10, 9.3e-10, 3.4e-10, 8.3e-10]

# ---------------- drawing ----------------
AX_COLOR = "black"
AX_FONT_SIZE = "16px"


def style(ax, major_in, minor_in, labels=True):
    ax.major_tick_in = major_in
    ax.major_tick_out = 0
    ax.minor_tick_in = minor_in
    ax.minor_tick_out = 0
    ax.axis_line_color = AX_COLOR
    ax.axis_line_width = 1.5
    ax.major_tick_line_color = AX_COLOR
    ax.minor_tick_line_color = AX_COLOR
    ax.major_tick_line_width = 1
    ax.minor_tick_line_width = 1
    ax.major_label_text_font = FONT
    ax.major_label_text_font_size = AX_FONT_SIZE
    ax.major_label_text_color = "black"
    ax.axis_label_text_font = FONT
    ax.axis_label_text_font_size = AX_FONT_SIZE
    ax.axis_label_text_font_style = "normal"
    ax.axis_label_text_color = "black"
    if not labels:
        ax.formatter = CustomJSTickFormatter(code="return ''")


def x_ticker():
    return SingleIntervalTicker(interval=5, num_minor_ticks=5)


def make_panel(title, top, frame_h, bottom, y_range, log=False, y_interval=None, ylabel=""):
    p = figure(width=1302, height=top + frame_h + bottom,
               x_range=Range1d(320, 350), y_range=y_range,
               y_axis_type="log" if log else "linear",
               output_backend="svg", toolbar_location=None,
               min_border_left=93, min_border_right=27,
               min_border_top=top, min_border_bottom=bottom)
    p.title.text = title
    p.title.align = "center"
    p.title.text_font = FONT
    p.title.text_font_size = "20px"
    p.title.text_font_style = "normal"
    p.title.text_color = "black"
    p.title.standoff = 7
    p.xgrid.visible = False
    p.ygrid.visible = False
    p.outline_line_color = None
    p.background_fill_color = "white"
    p.border_fill_color = "white"

    # bottom x axis
    xa = p.xaxis[0]
    xa.ticker = x_ticker()
    xa.axis_label = "DAY OF YEAR 2004"
    style(xa, 5, 3)
    xa.major_label_standoff = 12
    xa.axis_label_standoff = 3
    # top x axis
    xt = LinearAxis(ticker=x_ticker())
    style(xt, 5, 3, labels=False)
    p.add_layout(xt, "above")

    ya = p.yaxis[0]
    if log:
        ya.ticker = LogTicker(num_minor_ticks=10)
        ya.formatter = CustomJSTickFormatter(code="""
            const sup = {'-':'\u207b','0':'\u2070','1':'\u00b9','2':'\u00b2','3':'\u00b3','4':'\u2074',
                         '5':'\u2075','6':'\u2076','7':'\u2077','8':'\u2078','9':'\u2079'};
            const e = Math.round(Math.log10(tick));
            return '10' + String(e).split('').map(c => sup[c]).join('');
        """)
        yr = LogAxis(ticker=LogTicker(num_minor_ticks=10))
    else:
        ya.ticker = SingleIntervalTicker(interval=y_interval, num_minor_ticks=4)
        yr = LinearAxis(ticker=SingleIntervalTicker(interval=y_interval, num_minor_ticks=4))
    ya.axis_label = ylabel
    style(ya, 24, 12)
    ya.major_label_standoff = 6
    ya.axis_label_standoff = 12
    style(yr, 24, 12, labels=False)
    p.add_layout(yr, "right")
    return p


p1 = make_panel("HYDROGEN ENA", 36, 172, 52, Range1d(0, 120), y_interval=20, ylabel="ATOMS/CM2SEC")
p1.segment(x0=ena_zero_start, y0=[0] * len(ena_zero_start), x1=ena_zero_end, y1=[0] * len(ena_zero_end),
           line_color="black", line_width=5)
p1.scatter(h_day, h_val, marker="circle", size=4.5, color="black")

p2 = make_panel("OXYGEN ENA", 34, 172, 53, Range1d(0, 15), y_interval=2, ylabel="ATOMS/CM2SEC")
p2.segment(x0=ena_zero_start, y0=[0] * len(ena_zero_start), x1=ena_zero_end, y1=[0] * len(ena_zero_end),
           line_color="black", line_width=5)
p2.scatter(o_day, o_val, marker="circle", size=4.5, color="black")

p3 = make_panel("SKR SIGNAL", 34, 173, 53, Range1d(1e-12, 1e-7), log=True, ylabel="(V/m)^2")
p3.segment(x0=skr_zero_start, y0=[1e-12] * len(skr_zero_start), x1=skr_zero_end, y1=[1e-12] * len(skr_zero_end),
           line_color="black", line_width=5)
p3.scatter(skr_day, skr_val, marker="circle", size=4.5, color="black")

layout = column(p1, p2, p3, spacing=0)
open("out.html", "w").write(file_html(layout, INLINE))
